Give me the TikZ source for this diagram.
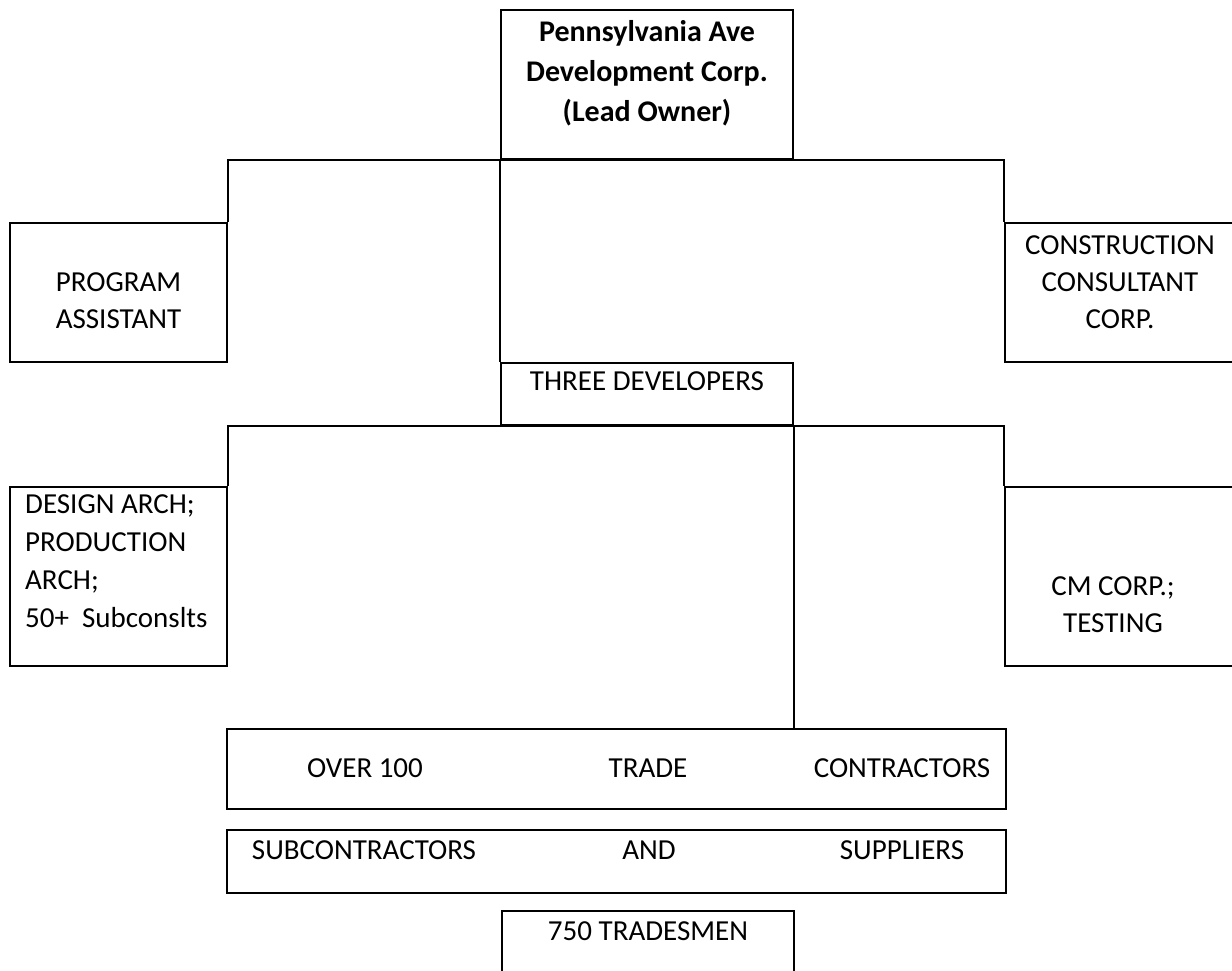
\documentclass[tikz,border=0pt]{standalone}
\usepackage{fontspec}
\setmainfont{Carlito}
\begin{document}
\begin{tikzpicture}[x=1pt,y=-1pt,
    box/.style={draw,line width=2.2pt,inner sep=0pt},
    txt/.style={anchor=base,inner sep=0pt,align=center,font=\fontsize{29}{37}\selectfont},
    link/.style={line width=1.6pt}]
  \useasboundingbox (0,0) rectangle (1232,971);

  % boxes
  \node[box,minimum width=292pt,minimum height=149pt] (owner) at (647,84.5) {};
  \node[box,minimum width=217pt,minimum height=139pt] (pa) at (118.5,292.5) {};
  \node[box,minimum width=231pt,minimum height=139pt] (consult) at (1120.5,292.5) {};
  \node[box,minimum width=292pt,minimum height=62pt] (dev) at (647,394) {};
  \node[box,minimum width=217pt,minimum height=179pt] (design) at (118.5,576.5) {};
  \node[box,minimum width=231pt,minimum height=179pt] (cm) at (1120.5,576.5) {};
  \node[box,minimum width=779pt,minimum height=80pt] (trade) at (616.5,769) {};
  \node[box,minimum width=779pt,minimum height=63pt] (sub) at (616.5,861.5) {};
  \node[box,minimum width=292pt,minimum height=69pt] (men) at (648,945.5) {};

  % texts (base = last line)
  \node[txt,font=\fontsize{30}{40}\selectfont\bfseries] (owner-t) at (647,122)
    {Pennsylvania Ave\\Development Corp.\\(Lead Owner)};
  \node[txt] (pa-t) at (118.5,328) {PROGRAM\\ASSISTANT};
  \node[txt] (consult-t) at (1120,328) {CONSTRUCTION\\CONSULTANT\\CORP.};
  \node[txt] (dev-t) at (647,390) {THREE DEVELOPERS};
  \node[txt,anchor=base west,align=left,font=\fontsize{29}{38}\selectfont] (design-t) at (25,627)
    {DESIGN ARCH;\\PRODUCTION\\ARCH;\\50+~~Subconslts};
  \node[txt] (cm-t) at (1113,632) {CM CORP.;\\TESTING};
  \foreach \x/\w [count=\i] in {365/OVER 100,648/TRADE,902/CONTRACTORS}
    \node[txt] (trade-\i) at (\x,777) {\w};
  \foreach \x/\w [count=\i] in {364/SUBCONTRACTORS,649/AND,902/SUPPLIERS}
    \node[txt] (sub-\i) at (\x,859) {\w};
  \node[txt] (men-t) at (648,940) {750 TRADESMEN};

  % connectors
  \draw[link] (pa.north east) -- (pa.north east |- owner.south)
    -- (consult.north west |- owner.south) -- (consult.north west);
  \draw[link] (owner.south west) -- (dev.north west);
  \draw[link] (design.north east) -- (design.north east |- dev.south)
    -- (cm.north west |- dev.south) -- (cm.north west);
  \draw[link] (dev.south east) -- (dev.south east |- trade.north);
\end{tikzpicture}
\end{document}
